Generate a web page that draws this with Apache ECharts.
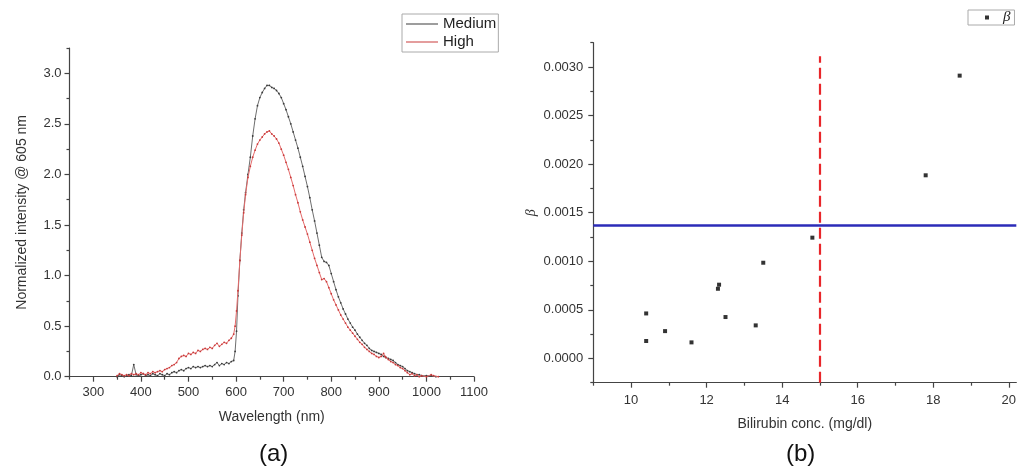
<!DOCTYPE html>
<html>
<head>
<meta charset="utf-8">
<script src="https://cdn.jsdelivr.net/npm/echarts@6/dist/echarts.min.js"></script>
<style>
html,body{margin:0;padding:0;background:#fff;}
#c{width:1019px;height:468px;}
</style>
</head>
<body>
<div id="c"></div>
<script>
// ---------- Panel (a): spectra ----------
const mediumWL = [350,355,360,365,370,375,380,385,390,395,400,405,410,415,420,425,430,435,440,445,450,455,460,465,470,475,480,485,490,495,500,505,510,515,520,525,530,535,540,545,550,555,560,565,570,575,580,585,590,595,598,601,604,608,612,616,620,625,630,635,640,645,650,655,660,665,670,675,680,685,690,695,700,705,710,715,720,725,730,735,740,745,750,755,760,765,770,775,780,785,790,795,800,805,810,815,820,825,830,835,840,845,850,855,860,865,870,875,880,885,890,895,900,905,910,915,920,925,930,935,940,945,950,955,960,965,970,975,980,985,990,1000,1010,1020];
const mediumVal = [0.00,0.02,0.01,0.00,0.01,0.02,0.01,0.12,0.02,0.01,0.02,0.03,0.01,0.02,0.01,0.03,0.02,0.01,0.03,0.02,0.01,0.03,0.02,0.04,0.05,0.04,0.06,0.07,0.06,0.08,0.09,0.08,0.10,0.09,0.10,0.09,0.10,0.11,0.10,0.11,0.10,0.12,0.14,0.11,0.13,0.12,0.14,0.13,0.15,0.16,0.25,0.45,0.80,1.15,1.42,1.65,1.82,2.00,2.17,2.38,2.55,2.68,2.76,2.81,2.85,2.88,2.88,2.86,2.85,2.83,2.80,2.76,2.70,2.64,2.57,2.50,2.42,2.34,2.26,2.17,2.08,1.98,1.88,1.77,1.65,1.54,1.42,1.30,1.18,1.14,1.13,1.10,1.02,0.94,0.86,0.79,0.73,0.67,0.62,0.57,0.53,0.49,0.46,0.42,0.39,0.36,0.33,0.31,0.28,0.26,0.25,0.24,0.23,0.22,0.20,0.19,0.18,0.17,0.16,0.14,0.12,0.11,0.10,0.08,0.06,0.05,0.04,0.03,0.02,0.02,0.01,0.01,0.01,0.00];
const highWL = [350,355,360,365,370,375,380,385,390,395,400,405,410,415,420,425,430,435,440,445,450,455,460,465,470,475,480,485,490,495,500,505,510,515,520,525,530,535,540,545,550,555,560,565,570,575,580,585,590,595,598,601,604,608,612,616,620,625,630,635,640,645,650,655,660,665,670,675,680,685,690,695,700,705,710,715,720,725,730,735,740,745,750,755,760,765,770,775,780,785,790,795,800,805,810,815,820,825,830,835,840,845,850,855,860,865,870,875,880,885,890,895,900,905,910,913,915,920,925,930,935,940,945,950,955,960,965,970,975,980,985,990,1000,1010,1015,1025];
const highVal = [0.01,0.03,0.02,0.01,0.02,0.01,0.03,0.02,0.03,0.02,0.04,0.03,0.02,0.04,0.03,0.05,0.04,0.05,0.06,0.05,0.07,0.08,0.09,0.11,0.12,0.14,0.18,0.20,0.21,0.20,0.23,0.22,0.24,0.23,0.26,0.25,0.27,0.28,0.27,0.29,0.28,0.31,0.33,0.30,0.32,0.34,0.33,0.36,0.38,0.42,0.50,0.65,0.85,1.15,1.40,1.62,1.80,1.97,2.08,2.17,2.24,2.30,2.34,2.37,2.40,2.42,2.43,2.40,2.38,2.35,2.31,2.25,2.19,2.12,2.05,1.97,1.89,1.80,1.72,1.63,1.55,1.48,1.41,1.33,1.25,1.17,1.10,1.03,0.96,0.97,0.94,0.88,0.82,0.76,0.71,0.66,0.61,0.57,0.53,0.49,0.46,0.43,0.40,0.37,0.34,0.32,0.29,0.27,0.25,0.23,0.22,0.20,0.19,0.20,0.23,0.20,0.19,0.17,0.15,0.14,0.12,0.11,0.09,0.08,0.06,0.04,0.02,0.03,0.01,0.02,0.00,0.01,0.00,0.02,0.01,0.00];
const xTicksA = [300,400,500,600,700,800,900,1000,1100];
const xMinorA = [250,350,450,550,650,750,850,950,1050];
const yTicksA = [0,0.5,1.0,1.5,2.0,2.5,3.0];
const yMinorA = [0.25,0.75,1.25,1.75,2.25,2.75,3.25];

// ---------- Panel (b): beta vs bilirubin ----------
const bilirubin = [10.4,10.4,10.9,11.6,12.3,12.33,12.5,13.3,13.5,14.8,17.8,18.7];
const betaVal = [0.000463,0.000179,0.000281,0.000165,0.000717,0.000759,0.000426,0.00034,0.000985,0.001243,0.001885,0.002911];
const xTicksB = [10,12,14,16,18,20];
const xMinorB = [9,11,13,15,17,19];
const yTicksB = [0,0.0005,0.001,0.0015,0.002,0.0025,0.003];
const yMinorB = [-0.00025,0.00025,0.00075,0.00125,0.00175,0.00225,0.00275,0.00325];
const thresholdBili = 15;
const thresholdBeta = 0.00137;
const dashTop = 0.00311;

const mediumData = mediumWL.map((w,i)=>[w,mediumVal[i]]);
const highData = highWL.map((w,i)=>[w,highVal[i]]);
const betaData = bilirubin.map((b,i)=>[b,betaVal[i]]);

const FONT = 'Liberation Sans, Arial, sans-serif';
const AX = '#444';
const TXT = '#333';
const xMinB = 9, xMaxB = 20.2, yMinB = -0.00025, yMaxB = 0.00325;

function majorAxis(grid, min, max, ticks, fmt, margin, extra){
  return Object.assign({
    type:'value', gridIndex:grid, min:min, max:max,
    axisLine:{show:true,onZero:false,lineStyle:{color:AX,width:1.2}},
    axisTick:{show:true,inside:false,length:5,customValues:ticks,lineStyle:{color:AX,width:1.2}},
    axisLabel:{show:true,customValues:ticks,formatter:fmt,margin:margin,color:TXT,fontFamily:FONT,fontSize:13},
    splitLine:{show:false}
  }, extra||{});
}
function minorAxis(grid, min, max, ticks, pos){
  return {
    type:'value', gridIndex:grid, min:min, max:max, position:pos,
    axisLine:{show:false,onZero:false},
    axisTick:{show:true,inside:false,length:3,customValues:ticks,lineStyle:{color:AX,width:1.2}},
    axisLabel:{show:false},
    splitLine:{show:false}
  };
}

const chart = echarts.init(document.getElementById('c'), null, {renderer:'canvas'});
chart.setOption({
  animation:false,
  backgroundColor:'#fff',
  grid:[
    {left:69.5, top:48, width:404.5, height:328.7},
    {left:593.3, top:42.7, width:426.2, height:340}
  ],
  legend:[
    {
      data:['Medium','High'], orient:'vertical', left:402, top:14,
      icon:'rect', itemWidth:32, itemHeight:1, itemGap:2,
      padding:[2,2,2,4],
      borderColor:'#aaa', borderWidth:1,
      textStyle:{fontFamily:FONT,fontSize:15,color:'#222',lineHeight:16}
    },
    {
      data:['β'], left:968, top:10,
      icon:'rect', itemWidth:4, itemHeight:4,
      padding:[0,4,0,17],
      borderColor:'#aaa', borderWidth:1,
      textStyle:{fontFamily:'Liberation Serif, DejaVu Serif, serif',fontStyle:'italic',fontSize:15,color:'#222',lineHeight:15,padding:[0,0,0,9]}
    }
  ],
  xAxis:[
    majorAxis(0,250,1100,xTicksA,v=>String(v),9,{
      name:'Wavelength (nm)',nameLocation:'middle',nameGap:33,
      nameTextStyle:{fontFamily:FONT,fontSize:14,color:TXT}
    }),
    minorAxis(0,250,1100,xMinorA,'bottom'),
    majorAxis(1,xMinB,xMaxB,xTicksB,v=>String(v),11,{
      name:'Bilirubin conc. (mg/dl)',nameLocation:'middle',nameGap:34,
      nameTextStyle:{fontFamily:FONT,fontSize:14,color:TXT}
    }),
    minorAxis(1,xMinB,xMaxB,xMinorB,'bottom')
  ],
  yAxis:[
    majorAxis(0,0,3.25,yTicksA,v=>v.toFixed(1),8,{
      name:'Normalized intensity @ 605 nm',nameLocation:'middle',nameGap:40,nameRotate:90,
      nameTextStyle:{fontFamily:FONT,fontSize:14,color:TXT}
    }),
    minorAxis(0,0,3.25,yMinorA,'left'),
    majorAxis(1,yMinB,yMaxB,yTicksB,v=>v.toFixed(4),10,{
      name:'β',nameLocation:'middle',nameGap:55,nameRotate:90,
      nameTextStyle:{fontFamily:'Liberation Serif, DejaVu Serif, serif',fontStyle:'italic',fontSize:14,color:TXT}
    }),
    minorAxis(1,yMinB,yMaxB,yMinorB,'left')
  ],
  series:[
    {
      name:'Medium', type:'line', xAxisIndex:0, yAxisIndex:0, data:mediumData,
      showSymbol:true, showAllSymbol:true, symbol:'circle', symbolSize:1.8,
      itemStyle:{color:'#3a3a3a'}, lineStyle:{color:'#6e6e6e',width:1},
      z:3
    },
    {
      name:'High', type:'line', xAxisIndex:0, yAxisIndex:0, data:highData,
      showSymbol:true, showAllSymbol:true, symbol:'circle', symbolSize:1.8,
      itemStyle:{color:'#c83a3a'}, lineStyle:{color:'#e46a6a',width:1},
      z:4
    },
    {
      name:'β', type:'scatter', xAxisIndex:2, yAxisIndex:2, data:betaData,
      symbol:'rect', symbolSize:4, itemStyle:{color:'#000'}, z:5,
      markLine:{
        silent:true, symbol:['none','none'], animation:false, precision:6,
        label:{show:false},
        data:[
          [{coord:[xMinB,thresholdBeta],lineStyle:{color:'#2b2bb8',width:2.5,type:'solid'}},{coord:[xMaxB,thresholdBeta]}],
          [{coord:[thresholdBili,yMinB],lineStyle:{color:'#e8262a',width:2.2,type:[11,5]}},{coord:[thresholdBili,dashTop]}]
        ]
      }
    }
  ],
  graphic:[
    {type:'text',left:259,top:442,style:{text:'(a)',font:'24px '+FONT,fill:'#111'}},
    {type:'text',left:786,top:442,style:{text:'(b)',font:'24px '+FONT,fill:'#111'}}
  ]
});
</script>
</body>
</html>
